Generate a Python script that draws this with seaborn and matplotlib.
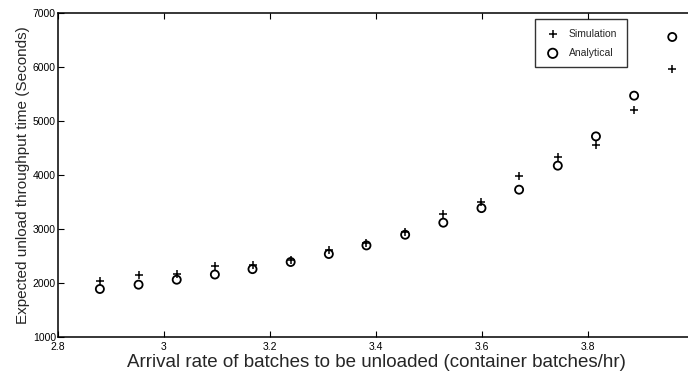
import matplotlib
matplotlib.use("Agg")
import matplotlib.pyplot as plt
import seaborn as sns
import pandas as pd

# Arrival rate (container batches/hr)
arrival_rate = [2.879, 2.952, 3.024, 3.096, 3.167, 3.239, 3.311, 3.382,
                3.455, 3.527, 3.599, 3.670, 3.743, 3.815, 3.887, 3.959]
# Expected unload throughput time (seconds)
simulation = [2030, 2148, 2172, 2307, 2339, 2432, 2617, 2741,
              2944, 3278, 3506, 3975, 4327, 4549, 5210, 5963]
analytical = [1889, 1969, 2061, 2157, 2257, 2389, 2537, 2696,
              2894, 3117, 3387, 3728, 4173, 4715, 5469, 6556]

x_ticks = [2.8, 3.0, 3.2, 3.4, 3.6, 3.8]
x_tick_labels = ["2.8", "3", "3.2", "3.4", "3.6", "3.8"]
y_ticks = [1000, 2000, 3000, 4000, 5000, 6000, 7000]

sns.set_theme(style="ticks")
plt.rcParams["font.family"] = ["Liberation Sans", "DejaVu Sans"]

df = pd.DataFrame({
    "rate": arrival_rate * 2,
    "time": simulation + analytical,
    "series": ["Simulation"] * len(simulation) + ["Analytical"] * len(analytical),
})

fig = plt.figure(figsize=(6.88, 3.74), dpi=100)
ax = fig.add_axes([58 / 688, 37 / 374, 636 / 688, 324 / 374])

sns.scatterplot(data=df[df.series == "Simulation"], x="rate", y="time",
                marker="+", s=30, color="black", linewidth=1.1,
                label="Simulation", ax=ax)
sns.scatterplot(data=df[df.series == "Analytical"], x="rate", y="time",
                marker="o", s=34, facecolor="none", edgecolor="black",
                linewidth=1.3, label="Analytical", ax=ax)

ax.set_xlim(2.8, 4.0)
ax.set_ylim(1000, 7000)
ax.set_xticks(x_ticks)
ax.set_xticklabels(x_tick_labels)
ax.set_yticks(y_ticks)
ax.tick_params(direction="in", length=4, width=0.8, labelsize=7.5,
               top=True, right=True, colors="black")
ax.tick_params(axis="x", pad=3.5)
ax.tick_params(axis="y", pad=1.5)
for sp in ax.spines.values():
    sp.set_linewidth(1.1)
    sp.set_color("black")

ax.set_xlabel("Arrival rate of batches to be unloaded (container batches/hr)",
              fontsize=13.5, labelpad=1.5)
ax.set_ylabel("Expected unload throughput time (Seconds)", fontsize=11,
              labelpad=2)

leg = ax.legend(loc="upper left", bbox_to_anchor=(477 / 636, 1 - 6.3 / 324),
                fontsize=7.5, frameon=True, fancybox=False, edgecolor="black",
                borderpad=0.9, labelspacing=0.9, handletextpad=0.75,
                handlelength=1.6, borderaxespad=0, markerscale=1.15)
leg.get_frame().set_linewidth(1.0)

fig.savefig("out.png", dpi=100)
